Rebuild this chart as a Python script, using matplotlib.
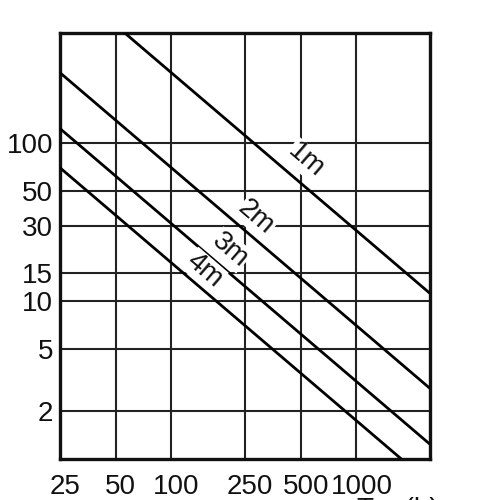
import matplotlib
matplotlib.use("Agg")
import matplotlib.pyplot as plt
import matplotlib.transforms as mtransforms
from matplotlib.ticker import FixedLocator, NullLocator, FixedFormatter

plt.rcParams['font.family'] = ['Liberation Sans', 'DejaVu Sans']

# Data (log-log straight lines, endpoints at x=25 and x=2500)
x_ticks = [25, 50, 100, 250, 500, 1000]
x_tick_labels = ['25', '50', '100', '250', '500', '1000']
y_ticks = [2, 5, 10, 15, 30, 50, 100]
y_tick_labels = ['2', '5', '10', '15', '30', '50', '100']
x_ends = [25, 2500]
series_names = ['1m', '2m', '3m', '4m']
y_1m = [1120, 11.2]
y_2m = [280, 2.8]
y_3m = [124, 1.24]
y_4m = [70, 0.70]

fig = plt.figure(figsize=(5, 5), dpi=100)
ax = fig.add_axes([0.12, 0.082, 0.74, 0.852])
ax.set_xscale('log')
ax.set_yscale('log')
ax.set_xlim(25, 2500)
ax.set_ylim(1, 500)

for ys in (y_1m, y_2m, y_3m, y_4m):
    ax.plot(x_ends, ys, color='black', lw=2.0, solid_capstyle='butt', zorder=3)

ax.xaxis.set_major_locator(FixedLocator(x_ticks))
ax.xaxis.set_major_formatter(FixedFormatter(x_tick_labels))
ax.yaxis.set_major_locator(FixedLocator(y_ticks))
ax.yaxis.set_major_formatter(FixedFormatter(y_tick_labels))
ax.xaxis.set_minor_locator(NullLocator())
ax.yaxis.set_minor_locator(NullLocator())
ax.grid(True, which='major', color='#222222', lw=1.5, zorder=1)
ax.tick_params(axis='both', length=0, labelsize=20, colors='#111111')
ax.tick_params(axis='x', pad=11)
ax.tick_params(axis='y', pad=5)
for s in ax.spines.values():
    s.set_linewidth(2.4)
    s.set_color('#111111')

# shift x tick labels slightly right as in the reference
offset = mtransforms.ScaledTranslation(5 / 100, 0, fig.dpi_scale_trans)
for lab in ax.get_xticklabels():
    lab.set_transform(lab.get_transform() + offset)

# Labels (positions in data coords)
lab_pos = [(532, 78), (287, 33.8), (207, 21.1), (151, 15.7)]
for name, (lx, ly) in zip(series_names, lab_pos):
    ax.text(lx, ly, name, rotation=-40.7, rotation_mode='anchor', ha='center', va='center',
            fontsize=20, color='#111111', zorder=4,
            bbox=dict(facecolor='white', edgecolor='none', pad=0.5))

fig.text(0.714, -0.034, 'T    (h)', fontsize=20, color='#111111', ha='left', va='baseline')

fig.savefig('out.png', dpi=100)
